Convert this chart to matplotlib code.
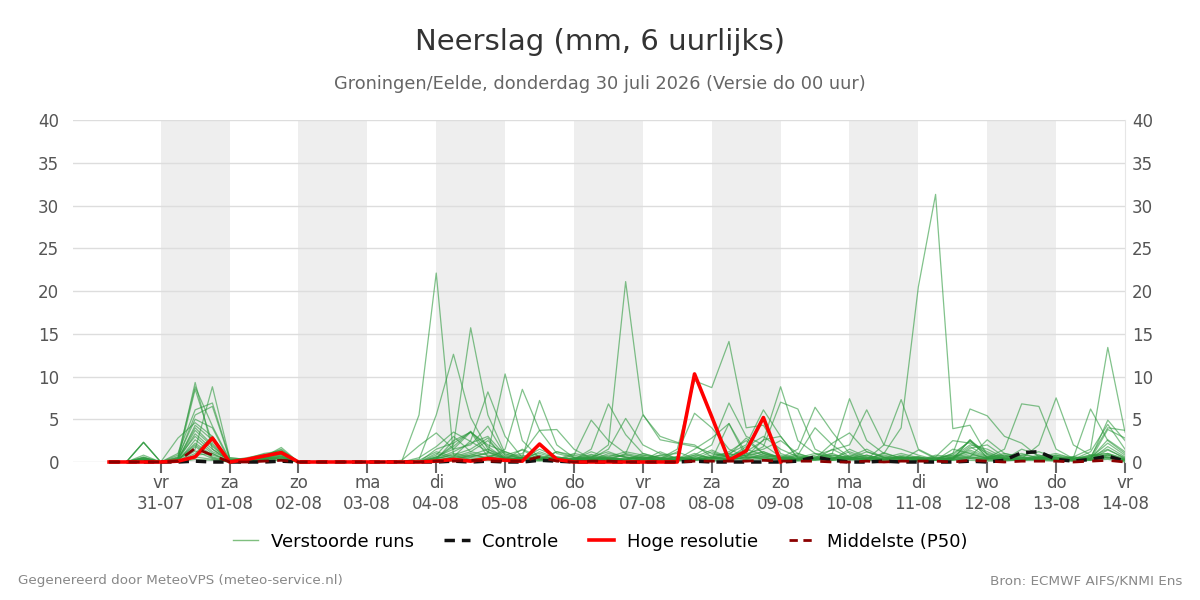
import numpy as np
import pandas as pd
import matplotlib
matplotlib.use('Agg')
import matplotlib.pyplot as plt
import matplotlib.dates as mdates

# 6-hourly steps, 30-07 06:00 .. 14-08 00:00
times = pd.date_range('2026-07-30 06:00', periods=60, freq='6h')

dagnamen = ['ma', 'di', 'wo', 'do', 'vr', 'za', 'zo']

# Hoge resolutie (HRES), runs until 09-08 00:00
hoge_resolutie = [0, 0, 0,
                  0, 0.1, 0.6, 2.8,
                  0, 0.3, 0.7, 1.1,
                  0, 0, 0, 0,
                  0, 0, 0, 0,
                  0.1, 0.3, 0.1, 0.4,
                  0.2, 0.1, 2.1, 0.3,
                  0, 0, 0, 0,
                  0, 0, 0, 10.3,
                  5.3, 0.2, 1.3, 5.2,
                  0]

controle = [0, 0, 0,
            0, 0, 0.1, 0,
            0, 0, 0, 0.1,
            0, 0, 0, 0,
            0, 0, 0, 0,
            0, 0.1, 0, 0.1,
            0, 0, 0.2, 0.1,
            0, 0, 0, 0,
            0, 0, 0, 0.1,
            0, 0, 0, 0,
            0, 0.1, 0.6, 0.2,
            0, 0, 0.1, 0,
            0, 0, 0, 0.1,
            0, 0.2, 1.1, 1.2,
            0.3, 0.1, 0.3, 0.7,
            0.1]

middelste = [0, 0, 0,
             0, 0.1, 1.6, 0.8,
             0, 0, 0.1, 0.2,
             0, 0, 0, 0,
             0, 0, 0, 0,
             0.1, 0.1, 0.2, 0.1,
             0.1, 0.1, 0.6, 0.1,
             0, 0.1, 0.1, 0,
             0, 0, 0, 0.1,
             0.1, 0.1, 0.1, 0.2,
             0.1, 0.1, 0.1, 0,
             0, 0.1, 0, 0.1,
             0.1, 0.1, 0, 0.2,
             0.1, 0, 0.1, 0.1,
             0.1, 0, 0.1, 0.2,
             0]

# Verstoorde runs (ensemble members)
verstoorde_runs = [
    [0, 0, 0.3, 0, 0.4, 9.3, 1.5, 0.2, 0, 0.3, 0.6, 0, 0, 0, 0, 0, 0, 0.1, 5.5,
     22.1, 0.8, 0.3, 0.6, 0.4, 0.2, 1.2, 0.5, 0.2, 0.6, 0.3, 0.1, 0.2, 0.4, 1.5, 9.5,
     8.7, 14.1, 4.0, 4.3, 1.0, 0.3, 0.5, 0.2, 0.4, 0.8, 0.3, 0.6, 0.3, 0.2, 1.0, 2.4,
     1.2, 0.4, 0.2, 0.5, 0.3, 0.1, 0.6, 1.5, 0.4],
    [0, 0, 0.5, 0, 0.8, 8.8, 4.2, 0.3, 0.1, 0.5, 0.9, 0, 0, 0, 0, 0, 0, 0, 0.3,
     5.5, 12.6, 5.2, 1.5, 0.6, 0.3, 0.5, 0.2, 0.8, 0.4, 0.2, 0.5, 0.3, 0.8, 1.0, 5.7,
     4.0, 1.5, 0.6, 1.2, 0.5, 1.0, 0.3, 0.4, 1.2, 0.5, 0.3, 0.2, 0.1, 0.4, 0.8, 0.6,
     2.6, 1.0, 0.5, 0.3, 0.2, 0.6, 0.4, 4.9, 2.5],
    [0, 0, 2.3, 0, 0.3, 8.5, 2.2, 0, 0.2, 0.4, 1.2, 0, 0, 0, 0, 0, 0, 0, 0,
     0.5, 2.0, 15.7, 5.5, 1.0, 0.3, 0.8, 0.2, 0.4, 0.2, 1.0, 0.6, 0.2, 0.3, 0.1, 0.8,
     2.0, 6.9, 3.0, 2.0, 0.6, 0.2, 0.4, 1.0, 0.3, 0.2, 1.1, 0.4, 0.6, 0.2, 0.4, 2.6,
     0.9, 0.3, 0.2, 0.4, 0.5, 0.3, 1.2, 4.4, 1.5],
    [0, 0, 0.8, 0, 1.0, 6.1, 6.9, 0.5, 0.3, 0.6, 1.0, 0, 0, 0, 0, 0, 0, 0, 0.2,
     1.2, 0.6, 2.5, 8.2, 3.0, 0.5, 0.3, 0.1, 0.3, 0.9, 0.4, 0.2, 0.6, 0.3, 0.2, 0.4,
     0.8, 1.0, 2.0, 6.1, 3.0, 0.5, 1.0, 0.4, 0.6, 0.3, 0.5, 1.0, 0.5, 0.2, 0.3, 1.6,
     2.0, 0.6, 0.3, 0.4, 0.8, 0.2, 0.5, 2.2, 0.8],
    [0, 0, 2.3, 0, 0.5, 5.5, 6.5, 0.4, 0.2, 0.8, 1.4, 0, 0, 0, 0, 0, 0, 0, 0,
     0.3, 1.0, 0.6, 1.0, 10.3, 2.5, 0.5, 0.3, 0.2, 0.5, 0.2, 0.9, 0.4, 0.2, 0.6, 0.3,
     0.5, 0.8, 1.2, 2.5, 8.8, 2.5, 1.0, 0.6, 0.4, 1.2, 0.5, 0.3, 0.6, 0.3, 0.5, 1.0,
     0.4, 0.2, 0.8, 0.6, 0.3, 0.2, 0.7, 1.0, 0.3],
    [0, 0, 0.5, 0, 0.6, 5.0, 4.0, 0.1, 0, 0.6, 1.7, 0, 0, 0, 0, 0, 0, 0, 0,
     0.2, 0.5, 1.0, 0.4, 1.5, 8.5, 3.7, 1.0, 0.5, 0.3, 0.4, 0.2, 1.0, 0.5, 0.2, 0.6,
     1.4, 0.5, 0.8, 1.8, 7.0, 6.2, 1.5, 0.5, 0.3, 0.6, 0.2, 0.8, 0.4, 0.3, 0.6, 2.0,
     1.5, 0.5, 0.3, 0.2, 0.6, 0.4, 0.3, 3.8, 2.8],
    [0, 0, 0.2, 0, 2.8, 4.6, 3.0, 0, 0.1, 0.3, 0.7, 0, 0, 0, 0, 0, 0, 0, 0,
     1.5, 2.2, 3.5, 1.8, 0.4, 0.5, 7.2, 2.0, 0.5, 0.3, 0.6, 0.2, 0.3, 0.8, 0.4, 0.2,
     0.6, 1.0, 0.4, 0.8, 0.5, 1.5, 6.4, 3.5, 1.0, 0.4, 0.3, 0.6, 0.2, 0.5, 0.8, 2.5,
     0.6, 0.3, 1.5, 0.8, 0.4, 0.3, 0.6, 4.0, 3.7],
    [0, 0, 0.4, 0, 0.2, 4.3, 2.6, 0.2, 0.4, 1.0, 1.3, 0, 0, 0, 0, 0, 0, 0, 0,
     0.8, 3.0, 1.2, 2.5, 0.6, 1.0, 3.7, 3.8, 1.5, 0.4, 0.2, 0.3, 0.8, 0.5, 0.3, 0.2,
     0.4, 0.6, 1.5, 0.8, 0.3, 0.4, 0.6, 1.0, 7.4, 2.5, 1.0, 0.5, 0.3, 0.2, 0.6, 1.2,
     0.5, 1.0, 0.6, 0.3, 0.8, 0.5, 0.3, 1.8, 0.6],
    [0, 0, 0.2, 0, 0.4, 4.0, 2.0, 0, 0.2, 0.5, 0.4, 0, 0, 0, 0, 0, 0, 0.2, 1.9,
     3.4, 1.5, 2.0, 4.2, 0.8, 0.4, 1.5, 0.6, 0.3, 1.2, 0.5, 0.8, 0.4, 0.2, 0.6, 0.3,
     0.2, 0.5, 0.3, 1.0, 0.6, 0.3, 0.8, 1.4, 2.0, 6.1, 2.0, 1.5, 0.8, 0.3, 0.2, 0.6,
     0.4, 0.8, 0.3, 0.6, 1.0, 0.4, 0.8, 0.6, 0.2],
    [0, 0, 0.6, 0, 0.3, 3.7, 1.8, 0.2, 0.3, 0.6, 1.1, 0, 0, 0, 0, 0, 0, 0, 0,
     0.5, 1.8, 3.6, 1.2, 0.5, 0.8, 0.3, 1.2, 0.8, 4.9, 2.5, 1.0, 0.6, 0.3, 0.2, 0.5,
     0.3, 0.8, 2.8, 1.0, 0.4, 0.6, 0.3, 0.8, 0.5, 0.3, 2.0, 7.3, 1.5, 0.5, 0.3, 0.6,
     0.3, 0.6, 1.0, 0.4, 0.6, 0.2, 0.4, 2.6, 1.2],
    [0, 0, 0.3, 0, 0.2, 3.3, 1.5, 0.1, 0, 0.2, 0.5, 0, 0, 0, 0, 0, 0, 0, 0,
     0.4, 0.8, 1.5, 2.8, 0.2, 0.6, 1.0, 0.4, 0.3, 1.5, 6.8, 3.2, 1.0, 0.4, 0.3, 0.6,
     0.5, 0.2, 1.0, 0.6, 0.3, 0.8, 0.4, 0.2, 0.6, 0.3, 1.0, 4.0, 20.5, 31.3, 3.9, 4.3,
     0.8, 0.4, 0.3, 0.5, 0.2, 0.6, 0.3, 1.4, 0.5],
    [0, 0, 0.4, 0, 0.5, 3.0, 1.2, 0.3, 0.2, 0.4, 0.9, 0, 0, 0, 0, 0, 0, 0, 0,
     0.6, 0.3, 0.8, 1.5, 0.3, 0.2, 0.6, 0.4, 0.2, 0.5, 2.0, 21.1, 5.6, 2.6, 2.2, 1.8,
     1.0, 0.6, 0.3, 0.5, 0.2, 0.6, 0.4, 0.3, 0.8, 0.4, 0.3, 0.5, 0.4, 0.3, 1.0, 6.2,
     5.4, 3.0, 2.2, 0.6, 0.3, 0.4, 0.2, 0.8, 0.3],
    [0, 0, 0.2, 0, 0.1, 2.6, 1.0, 0, 0.3, 0.7, 1.5, 0, 0, 0, 0, 0, 0, 0, 0,
     0.2, 0.6, 1.2, 0.8, 0.5, 0.3, 0.2, 1.2, 0.6, 0.4, 1.5, 5.1, 2.0, 1.0, 0.4, 0.3,
     0.6, 0.4, 0.8, 0.3, 0.5, 0.2, 0.6, 0.4, 0.3, 0.5, 0.8, 0.4, 0.2, 0.6, 0.4, 0.8,
     0.5, 1.5, 6.8, 6.5, 1.5, 0.4, 0.6, 0.8, 0.2],
    [0, 0, 2.3, 0, 0.2, 2.2, 0.8, 0.2, 0.5, 0.9, 1.0, 0, 0, 0, 0, 0, 0, 0, 0,
     1.0, 0.4, 0.6, 1.1, 0.3, 0.5, 0.4, 0.3, 0.2, 0.8, 0.3, 1.0, 5.5, 3.0, 2.3, 2.0,
     0.6, 0.3, 0.8, 1.2, 0.4, 0.3, 0.5, 0.8, 0.6, 0.2, 0.3, 0.5, 0.4, 0.3, 0.5, 1.4,
     0.6, 0.8, 0.4, 2.0, 7.5, 2.0, 0.8, 0.5, 0.3],
    [0, 0, 0.5, 0, 0.3, 2.0, 0.6, 0.1, 0.2, 0.4, 0.8, 0, 0, 0, 0, 0, 0, 0, 0.5,
     1.8, 3.5, 2.4, 1.2, 0.4, 0.2, 0.6, 0.3, 1.0, 0.6, 0.3, 0.4, 0.5, 0.3, 1.2, 0.4,
     0.3, 4.5, 0.5, 0.6, 0.8, 0.3, 0.2, 0.6, 0.3, 0.4, 0.6, 0.2, 1.4, 0.4, 0.3, 2.6,
     0.5, 0.3, 0.6, 0.4, 0.3, 0.5, 6.2, 2.5, 1.0],
    [0, 0, 0.3, 0, 0.2, 1.8, 0.5, 0, 0.1, 0.3, 0.6, 0, 0, 0, 0, 0, 0, 0, 0,
     0.3, 2.5, 3.5, 0.6, 1.2, 0.4, 0.3, 0.2, 0.5, 0.3, 0.8, 0.6, 0.2, 1.2, 0.4, 0.3,
     0.5, 0.3, 0.6, 2.6, 3.0, 0.4, 0.3, 0.5, 0.4, 0.8, 0.3, 0.6, 0.5, 0.3, 0.4, 1.8,
     0.6, 0.4, 0.3, 0.8, 0.3, 0.6, 1.5, 13.4, 3.5],
    [0, 0, 0.2, 0, 0.3, 1.5, 8.8, 0.5, 0.3, 0.6, 1.2, 0, 0, 0, 0, 0, 0, 0, 0,
     0.6, 1.5, 3.5, 2.0, 1.2, 0.5, 0.4, 0.6, 0.3, 0.6, 1.2, 0.5, 0.4, 0.6, 0.3, 1.5,
     2.8, 4.5, 1.0, 1.5, 2.5, 1.0, 0.4, 0.3, 1.5, 0.6, 0.3, 0.5, 0.3, 0.6, 2.5, 2.2,
     1.0, 0.5, 0.2, 0.6, 0.4, 0.3, 0.8, 1.0, 0.4],
    [0, 0, 0.1, 0, 0.1, 1.3, 0.4, 0, 0, 0.2, 0.5, 0, 0, 0, 0, 0, 0, 0, 0,
     0.2, 0.4, 0.8, 0.5, 0.3, 1.5, 0.6, 0.4, 0.2, 0.3, 0.6, 1.2, 0.8, 0.4, 0.6, 0.3,
     1.2, 0.5, 1.8, 3.0, 1.5, 0.6, 0.4, 2.2, 3.4, 1.2, 0.6, 0.4, 0.6, 0.2, 1.5, 1.0,
     0.4, 0.3, 0.5, 0.3, 0.6, 0.2, 0.4, 0.9, 0.2],
    [0, 0, 0.2, 0, 0.1, 1.0, 3.0, 0.2, 0.1, 0.4, 0.7, 0, 0, 0, 0, 0, 0, 0, 0,
     0.4, 1.2, 2.2, 3.0, 0.8, 1.4, 0.3, 0.5, 0.4, 0.2, 0.5, 0.3, 0.6, 0.2, 0.4, 0.8,
     0.5, 1.2, 2.5, 1.0, 0.4, 0.8, 4.0, 2.0, 0.6, 1.5, 0.5, 0.3, 0.2, 0.8, 0.6, 0.4,
     0.3, 0.6, 0.8, 1.2, 0.5, 0.3, 0.2, 0.6, 0.1],
    [0, 0, 0, 0, 0, 0.8, 1.0, 0.1, 0.1, 0.2, 0.4, 0, 0, 0, 0, 0, 0, 0, 0,
     0.1, 0.3, 0.5, 0.4, 0.2, 0.4, 0.3, 0.2, 0.1, 0.2, 0.4, 0.3, 0.5, 0.2, 0.3, 1.0,
     0.4, 0.3, 0.5, 0.6, 0.2, 0.4, 0.3, 1.5, 0.5, 0.3, 0.4, 0.6, 0.3, 0.2, 0.4, 0.5,
     0.4, 0.2, 0.3, 0.5, 0.2, 0.3, 0.4, 0.5, 0.2],
    [0, 0, 0.1, 0, 0.1, 0.6, 0.3, 0, 0, 0.1, 0.2, 0, 0, 0, 0, 0, 0, 0, 0,
     0, 0.2, 0.3, 0.2, 0.1, 0.2, 0.1, 0.3, 0.2, 0.1, 0.3, 0.2, 0.3, 0.1, 0.2, 0.4,
     0.2, 0.3, 0.2, 0.3, 0.4, 0.2, 0.3, 0.2, 0.3, 0.2, 0.1, 0.4, 0.2, 0.3, 0.2, 0.4,
     0.2, 0.1, 0.3, 0.2, 0.1, 0.2, 0.3, 0.4, 0.1],
    [0, 0, 0.1, 0, 0, 0.3, 0.2, 0, 0, 0.1, 0.3, 0, 0, 0, 0, 0, 0, 0, 0,
     0.1, 0.1, 0.2, 0.6, 0.3, 0.2, 0.2, 0.1, 0.1, 0.3, 0.2, 0.1, 0.2, 0.3, 0.1, 0.2,
     0.1, 0.2, 0.6, 0.4, 0.2, 0.1, 0.2, 0.3, 0.2, 0.4, 0.2, 0.1, 0.1, 0.2, 0.3, 0.2,
     0.1, 0.2, 0.2, 0.3, 0.2, 0.1, 0.2, 0.3, 0],
]

fig = plt.figure(figsize=(12, 6), dpi=100)
ax = fig.add_axes([0.061, 0.23, 0.8765, 0.57])

# alternating grey day bands
for dag in pd.date_range('2026-07-31', '2026-08-12', freq='2D'):
    ax.axvspan(dag, dag + pd.Timedelta(days=1), color='#eeeeee', zorder=0, lw=0)

for run in verstoorde_runs:
    ax.plot(times, run, color='#2e9a3e', alpha=0.6, lw=0.9, zorder=2, clip_on=False)

ax.plot(times[:len(controle)], controle, color='#111111', lw=2.5, ls=(0, (3, 2)), zorder=3, clip_on=False)
ax.plot(times[:len(hoge_resolutie)], hoge_resolutie, color='#ff0000', lw=2.6, zorder=4, clip_on=False)
ax.plot(times[:len(middelste)], middelste, color='#8b0000', lw=2, ls=(0, (4, 3)), zorder=5, clip_on=False)

ax.set_xlim(pd.Timestamp('2026-07-29 17:30'), pd.Timestamp('2026-08-14 00:00'))
ax.set_ylim(0, 40)
ax.set_yticks(range(0, 41, 5))
ax.grid(axis='y', color='#dddddd', lw=1)
ax.set_axisbelow(True)

dagen = pd.date_range('2026-07-31', '2026-08-14', freq='D')
ax.set_xticks(dagen)
ax.set_xticklabels([f'{dagnamen[d.weekday()]}\n{d.strftime("%d-%m")}' for d in dagen])
ax.tick_params(axis='x', colors='#666666', labelcolor='#555555', length=8, width=1.5,
               labelsize=12, pad=1)
ax.tick_params(axis='y', length=0, labelsize=12, labelcolor='#555555', pad=10)
for s in ['top', 'left', 'bottom']:
    ax.spines[s].set_visible(False)
ax.spines['right'].set_color('#e6e6e6')

ax2 = ax.twinx()
ax2.set_ylim(0, 40)
ax2.set_yticks(range(0, 41, 5))
ax2.tick_params(axis='y', length=0, labelsize=12, labelcolor='#555555', pad=5)
for s in ax2.spines.values():
    s.set_visible(False)

fig.text(0.5, 0.93, 'Neerslag (mm, 6 uurlijks)', ha='center', va='center',
         fontsize=21, color='#333333')
fig.text(0.5, 0.86, 'Groningen/Eelde, donderdag 30 juli 2026 (Versie do 00 uur)',
         ha='center', va='center', fontsize=12.75, color='#666666')

handles = [
    plt.Line2D([], [], color='#7fbf7f', lw=1),
    plt.Line2D([], [], color='#111111', lw=2.5, ls=(0, (3, 2))),
    plt.Line2D([], [], color='#ff0000', lw=2.6),
    plt.Line2D([], [], color='#8b0000', lw=2, ls=(0, (3, 2))),
]
labels = ['Verstoorde runs', 'Controle', 'Hoge resolutie', 'Middelste (P50)']
fig.legend(handles, labels, loc='center', bbox_to_anchor=(0.5, 0.097), ncol=4,
           frameon=False, fontsize=13, handlelength=1.4, handletextpad=0.7,
           columnspacing=1.7)

fig.text(0.015, 0.032, 'Gegenereerd door MeteoVPS (meteo-service.nl)', ha='left',
         va='center', fontsize=9.7, color='#888888')
fig.text(0.985, 0.032, 'Bron: ECMWF AIFS/KNMI Ens', ha='right', va='center',
         fontsize=9.7, color='#888888')

fig.savefig('out.png', dpi=100)
